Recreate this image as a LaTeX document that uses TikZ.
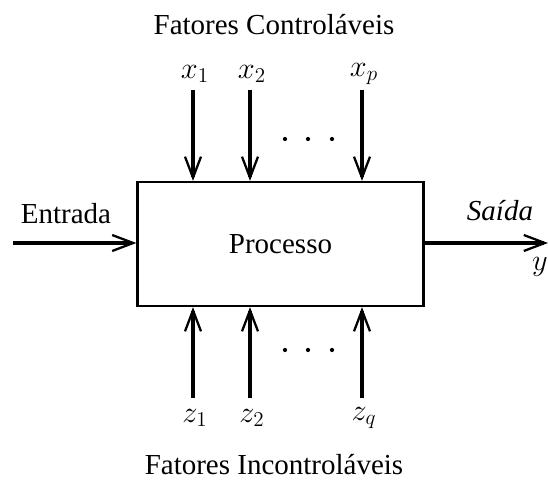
\documentclass[tikz,border=0pt]{standalone}
\usepackage{fontspec}
\setmainfont{Liberation Serif}
\usetikzlibrary{arrows.meta}

\tikzset{
  flow/.style={line width=2.3pt, -{Straight Barb[length=0.42cm, width=0.32cm, line width=1.3pt]}},
  lbl/.style={font=\fontsize{16.5}{20}\selectfont},
  var/.style={font=\fontsize{17.5}{20}\selectfont, inner sep=1pt}
}

\begin{document}
\begin{tikzpicture}[x=0.02cm, y=-0.02cm]
\useasboundingbox (0,0) rectangle (548,480);

% process box
\node[draw, line width=1.3pt, minimum width=5.72cm, minimum height=2.48cm, lbl] (proc) at (280.5,244) {Processo};

% controllable factors
\node[lbl] (ctrl) at (274,25) {Fatores Controláveis};
\node[var] (x1) at (195,74) {$x_1$};
\node[var] (x2) at (252,74) {$x_2$};
\node[var] (xp) at (364,74) {$x_p$};
\coordinate (tx1) at (193,90);
\coordinate (tx2) at (250,90);
\coordinate (txp) at (362,90);
\draw[flow] (tx1) -- (tx1 |- proc.north);
\draw[flow] (tx2) -- (tx2 |- proc.north);
\draw[flow] (txp) -- (txp |- proc.north);
\foreach \d in {285,308,332} \fill (\d,139) circle (1.2pt); % dots

% uncontrollable factors
\node[lbl] (unctrl) at (274,465) {Fatores Incontroláveis};
\node[var] (z1) at (195,418) {$z_1$};
\node[var] (z2) at (252,418) {$z_2$};
\node[var] (zq) at (364,418) {$z_q$};
\coordinate (bz1) at (193,398);
\coordinate (bz2) at (250,398);
\coordinate (bzq) at (362,398);
\draw[flow] (bz1) -- (bz1 |- proc.south);
\draw[flow] (bz2) -- (bz2 |- proc.south);
\draw[flow] (bzq) -- (bzq |- proc.south);
\foreach \d in {285,308,332} \fill (\d,350) circle (1.2pt); % dots

% input and output
\coordinate (in) at (13,243);
\coordinate (out) at (548,243);
\draw[flow] (in) -- (in -| proc.west);
\draw[flow] (out -| proc.east) -- (out);
\node[lbl] (entrada) at (66,214) {Entrada};
\node[lbl] (saida) at (500,211) {\itshape Saída};
\node[var] (y) at (540,267) {$y$};
\end{tikzpicture}
\end{document}
